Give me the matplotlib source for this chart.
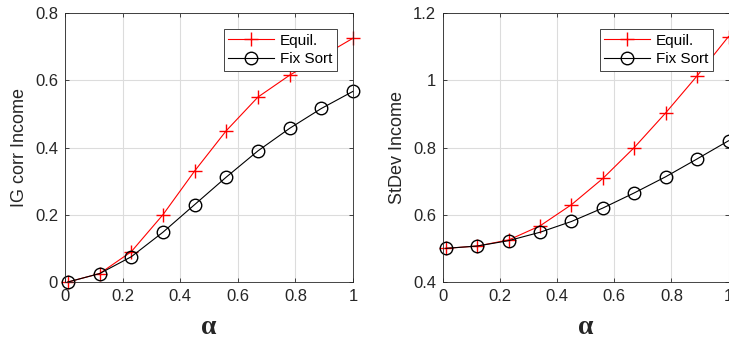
import matplotlib
matplotlib.use('Agg')
import matplotlib.pyplot as plt

plt.rcParams['font.family'] = ['Liberation Sans', 'DejaVu Sans']

# data
alpha = [0.01, 0.12, 0.23, 0.34, 0.45, 0.56, 0.67, 0.78, 0.89, 1.00]
corr_equil = [0.0, 0.025, 0.09, 0.20, 0.33, 0.45, 0.55, 0.615, 0.67, 0.725]
corr_fix = [0.0, 0.025, 0.075, 0.148, 0.23, 0.312, 0.39, 0.457, 0.516, 0.567]
sd_equil = [0.5, 0.507, 0.525, 0.567, 0.63, 0.708, 0.80, 0.903, 1.013, 1.13]
sd_fix = [0.5, 0.507, 0.523, 0.548, 0.58, 0.62, 0.665, 0.713, 0.766, 0.82]

xticks = [0, 0.2, 0.4, 0.6, 0.8, 1]
xticklabels = ['0', '0.2', '0.4', '0.6', '0.8', '1']
corr_ticks = [0, 0.2, 0.4, 0.6, 0.8]
corr_labels = ['0', '0.2', '0.4', '0.6', '0.8']
sd_ticks = [0.4, 0.6, 0.8, 1.0, 1.2]
sd_labels = ['0.4', '0.6', '0.8', '1', '1.2']

dark = '#262626'

fig = plt.figure(figsize=(7.29, 3.45), dpi=100)
ax1 = fig.add_axes([65 / 729, 1 - 282 / 345, 288 / 729, 269 / 345])
ax2 = fig.add_axes([443 / 729, 1 - 282 / 345, 285.5 / 729, 269 / 345])


def style(ax, yticks, ylabels, ylim, ylab):
    ax.set_xlim(0, 1)
    ax.set_ylim(*ylim)
    ax.set_xticks(xticks)
    ax.set_xticklabels(xticklabels)
    ax.set_yticks(yticks)
    ax.set_yticklabels(ylabels)
    ax.grid(True, color='#dcdcdc', linewidth=0.8)
    ax.set_axisbelow(True)
    ax.tick_params(direction='in', top=True, right=True, length=3,
                   width=0.6, colors=dark, labelsize=12, pad=5)
    for s in ax.spines.values():
        s.set_color(dark)
        s.set_linewidth(0.6)
    ax.set_ylabel(ylab, fontsize=13, color=dark, labelpad=5)
    ax.set_xlabel('α', fontsize=20, fontweight='bold',
                  family=['Liberation Serif', 'DejaVu Serif'], color=dark, labelpad=8)


ax1.plot(alpha, corr_equil, color='red', marker='+', markersize=10, lw=0.8,
         mew=1.0, label='Equil.', clip_on=False)
ax1.plot(alpha, corr_fix, color='black', marker='o', markersize=9, lw=0.8,
         mfc='none', mew=1.0, label='Fix Sort', clip_on=False)
style(ax1, corr_ticks, corr_labels, (0, 0.8), 'IG corr Income')

ax2.plot(alpha, sd_equil, color='red', marker='+', markersize=10, lw=0.8,
         mew=1.0, label='Equil.', clip_on=False)
ax2.plot(alpha, sd_fix, color='black', marker='o', markersize=9, lw=0.8,
         mfc='none', mew=1.0, label='Fix Sort', clip_on=False)
style(ax2, sd_ticks, sd_labels, (0.4, 1.2), 'StDev Income')

for ax, bb in ((ax1, (219, 29, 118, 46)), (ax2, (596, 29, 117, 46))):
    x0, y0, w, h = bb
    leg = ax.legend(loc='upper right', fontsize=11, frameon=True, fancybox=False,
                    edgecolor=dark, framealpha=1, borderpad=0.3, handlelength=3.0,
                    handletextpad=0.4, labelspacing=0.3, borderaxespad=0,
                    bbox_to_anchor=((x0 + w) / 729, 1 - y0 / 345),
                    bbox_transform=fig.transFigure)
    leg.get_frame().set_linewidth(0.6)
    for t in leg.get_texts():
        t.set_color('black')

fig.savefig('out.png', dpi=100)
